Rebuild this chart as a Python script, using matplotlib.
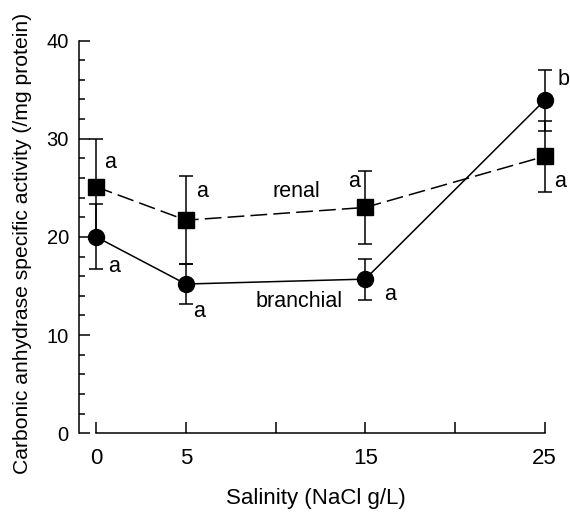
"""Carbonic anhydrase activity vs salinity - branchial and renal."""

import matplotlib
matplotlib.use("Agg")
import matplotlib.pyplot as plt
from matplotlib.ticker import MultipleLocator, FixedLocator

###################################################################################################
###################################################################################################

salinity = [0, 5, 15, 25]

branchial = [20.0, 15.2, 15.7, 33.9]
branchial_err = [3.3, 2.0, 2.1, 3.1]
branchial_sig = ["a", "a", "a", "b"]

renal = [25.1, 21.7, 23.0, 28.2]
renal_err = [4.9, 4.5, 3.7, 3.6]
renal_sig = ["a", "a", "a", "a"]

plt.rcParams['font.family'] = ['Liberation Sans', 'DejaVu Sans']

fig = plt.figure(figsize=(5.7, 5.13), dpi=100)
ax = fig.add_axes([78.5 / 570, 79.7 / 513, 475 / 570, 392.8 / 513])

common = dict(color='black', ecolor='black', elinewidth=1.1, capsize=4.7,
              capthick=1.1, linewidth=1.1, clip_on=False, zorder=3)

ax.errorbar(salinity, branchial, yerr=branchial_err, marker='o', markersize=11.5,
            linestyle='-', **common)
ax.errorbar(salinity, renal, yerr=renal_err, marker='s', markersize=11,
            linestyle=(0, (11, 4)), **common)

# Significance letters, placed beside each error bar
fs = 15.5
b_pos = [(1.02, 17.0), (5.72, 12.4), (16.41, 14.1), (26.05, 36.05)]
r_pos = [(0.76, 27.6), (5.91, 24.6), (14.37, 25.6), (25.86, 25.6)]
for (x, y), s in zip(b_pos, branchial_sig):
    ax.text(x, y, s, ha='center', va='center', fontsize=fs)
for (x, y), s in zip(r_pos, renal_sig):
    ax.text(x, y, s, ha='center', va='center', fontsize=fs)

ax.text(11.17, 24.6, "renal", ha='center', va='center', fontsize=fs)
ax.text(11.34, 13.4, "branchial", ha='center', va='center', fontsize=fs)

ax.set_xlim(-0.987, 25.5)
ax.set_ylim(0, 40)

ax.spines['top'].set_visible(False)
ax.spines['right'].set_visible(False)
ax.spines['left'].set_bounds(0, 40)
ax.spines['bottom'].set_bounds(0, 25)
for sp in ('left', 'bottom'):
    ax.spines[sp].set_linewidth(1.1)

ax.xaxis.set_major_locator(FixedLocator([0, 5, 10, 15, 20, 25]))
ax.set_xticklabels(["0", "5", "", "15", "", "25"])
ax.yaxis.set_major_locator(MultipleLocator(10))
ax.yaxis.set_minor_locator(MultipleLocator(2))

ax.tick_params(axis='both', which='major', direction='in', length=8, width=1.1)
ax.tick_params(axis='x', labelsize=16, pad=10.5)
ax.tick_params(axis='y', labelsize=14.5, pad=7)
ax.tick_params(axis='y', which='minor', direction='in', length=4.5, width=1.1)

ax.set_xlabel("Salinity (NaCl g/L)", fontsize=16, labelpad=14)
ax.set_ylabel("Carbonic anhydrase specific activity (/mg protein)", fontsize=15.2)
ax.yaxis.set_label_coords(-0.097, 0.483)

fig.savefig("out.png", dpi=100)
